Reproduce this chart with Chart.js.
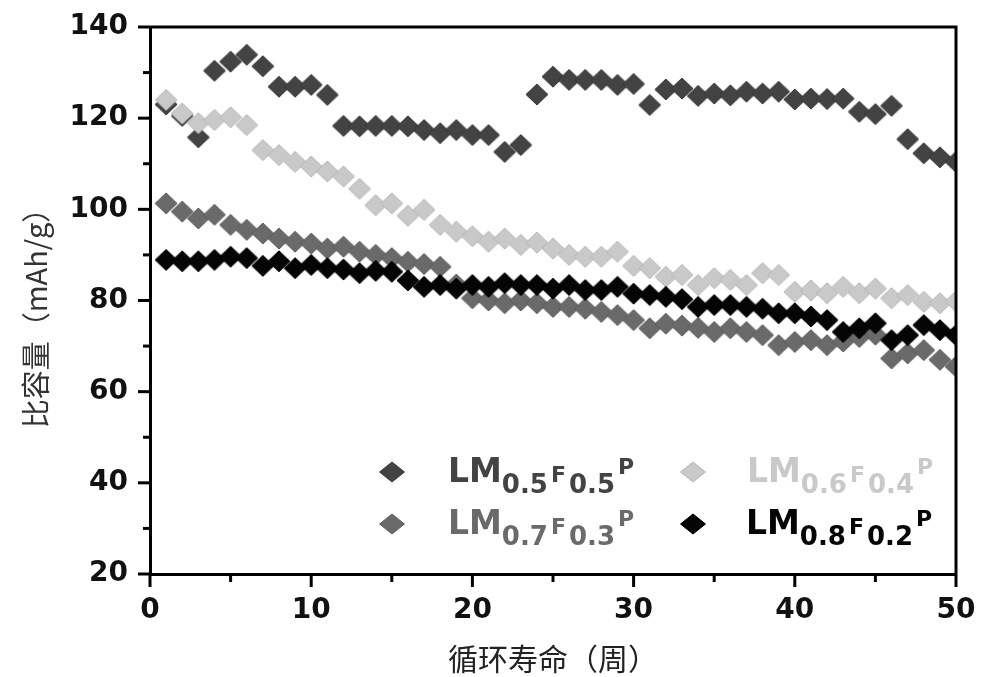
<!DOCTYPE html>
<html>
<head>
<meta charset="utf-8">
<script src="https://cdn.jsdelivr.net/npm/chart.js@4.4.1/dist/chart.umd.min.js"></script>
<style>
  html, body { margin: 0; padding: 0; background: #ffffff; }
  #wrap { width: 981px; height: 677px; position: relative; }
</style>
</head>
<body>
<div id="wrap"><canvas id="c" width="981" height="677"></canvas></div>
<script>
// ---- data ----
const cycles = [1,2,3,4,5,6,7,8,9,10,11,12,13,14,15,16,17,18,19,20,21,22,23,24,25,26,27,28,29,30,31,32,33,34,35,36,37,38,39,40,41,42,43,44,45,46,47,48,49,50];

const lm05 = [123,120.5,115.8,130.4,132.4,133.9,131.4,126.9,126.9,127.3,125.1,118.3,118.2,118.3,118.3,118.2,117.4,116.7,117.4,116.3,116.3,112.6,114.1,125.2,129.1,128.4,128.4,128.4,127.3,127.5,122.9,126.3,126.5,124.9,125.4,125.0,125.8,125.4,125.8,124.1,124.3,124.2,124.3,121.4,120.9,122.7,115.4,112.3,111.4,110.4];

const lm06 = [124,121,118.9,119.6,120.2,118.5,113,111.9,110.4,109.4,108.3,107.2,104.5,100.9,101.3,98.6,99.9,96.6,95.1,94.1,92.9,93.6,92.2,92.7,91.4,90.0,89.6,89.6,90.7,87.6,87.1,85.2,85.6,83.4,84.9,84.5,83.4,86.0,85.6,81.9,82.2,81.6,83.0,81.6,82.6,80.5,81.2,79.7,79.4,79.8];

const lm07 = [101.3,99.5,98.0,98.8,96.6,95.5,94.7,93.6,92.9,92.5,91.4,91.8,90.7,90.0,89.3,88.5,88.0,87.4,83.5,80.5,80.0,79.4,80.0,79.4,78.6,78.6,78.2,77.5,76.8,75.7,73.9,74.9,74.5,74.0,73.1,73.9,73.1,72.4,70.2,70.9,71.3,70.2,71.0,72.0,72.5,67.3,68.4,69.1,67.0,65.5];

const lm08 = [88.9,88.6,88.6,88.9,89.6,89.3,87.6,88.6,87.1,87.8,87.1,86.8,86.0,86.5,86.3,84.4,83.0,83.4,82.6,83.4,83.0,83.8,83.4,83.4,82.6,83.4,82.3,82.3,83.0,81.5,81.2,80.8,80.3,78.6,79.0,79.0,78.6,78.2,77.2,77.2,76.5,75.7,73.1,73.9,75.0,71.3,72.4,74.6,73.5,72.4];

const yTicks = [20,40,60,80,100,120,140];
const xTicks = [0,10,20,30,40,50];
const yMinor = [30,50,70,90,110,130];
const xMinor = [5,15,25,35,45];

// legend label parts: [main, sub, main2, sub2, tail]
const legendParts = [
  ['LM','0.5','F','0.5','P'],
  ['LM','0.6','F','0.4','P'],
  ['LM','0.7','F','0.3','P'],
  ['LM','0.8','F','0.2','P']
];

// ---- styling ----
const colors = ['#434343', '#c9c9c9', '#6a6a6a', '#050505'];
const edges  = ['#383838', '#b4b4b4', '#5c5c5c', '#000000'];

function makeDiamond(fill, stroke, w, h) {
  const c = document.createElement('canvas');
  c.width = w + 2; c.height = h + 2;
  const g = c.getContext('2d');
  g.beginPath();
  g.moveTo((w + 2) / 2, 1);
  g.lineTo(w + 1, (h + 2) / 2);
  g.lineTo((w + 2) / 2, h + 1);
  g.lineTo(1, (h + 2) / 2);
  g.closePath();
  g.fillStyle = fill; g.fill();
  g.strokeStyle = stroke; g.lineWidth = 1; g.stroke();
  return c;
}

const markers = colors.map((c, i) => makeDiamond(c, edges[i], 22, 21));

function pts(arr) { return arr.map((v, i) => ({ x: cycles[i], y: v })); }

const seriesList = [lm05, lm06, lm07, lm08];
const names = ['LM0.5F0.5P','LM0.6F0.4P','LM0.7F0.3P','LM0.8F0.2P'];

const datasets = seriesList.map((s, i) => ({
  label: names[i],
  data: pts(s),
  pointStyle: markers[i],
  pointRadius: 10,
  backgroundColor: colors[i],
  borderColor: colors[i],
  showLine: false,
  order: 4 - i
}));

const framePlugin = {
  id: 'frame',
  afterDraw(chart) {
    const ctx = chart.ctx;
    const a = chart.chartArea;
    const xs = chart.scales.x, ys = chart.scales.y;
    ctx.save();
    ctx.strokeStyle = '#000';
    ctx.lineCap = 'butt';
    ctx.lineWidth = 3;
    ctx.beginPath();
    ctx.moveTo(a.left, a.top); ctx.lineTo(a.right, a.top); ctx.lineTo(a.right, a.bottom);
    ctx.stroke();
    yTicks.forEach(v => {
      const y = ys.getPixelForValue(v);
      ctx.beginPath(); ctx.moveTo(a.left - 12, y); ctx.lineTo(a.left, y); ctx.stroke();
    });
    yMinor.forEach(v => {
      const y = ys.getPixelForValue(v);
      ctx.beginPath(); ctx.moveTo(a.left - 7, y); ctx.lineTo(a.left, y); ctx.stroke();
    });
    xTicks.forEach(v => {
      const x = xs.getPixelForValue(v);
      ctx.beginPath(); ctx.moveTo(x, a.bottom); ctx.lineTo(x, a.bottom + 13); ctx.stroke();
    });
    xMinor.forEach(v => {
      const x = xs.getPixelForValue(v);
      ctx.beginPath(); ctx.moveTo(x, a.bottom); ctx.lineTo(x, a.bottom + 8); ctx.stroke();
    });
    ctx.restore();
  }
};

// legend positions (layout)
const legendSlots = [
  { dx: 392, dy: 472, tx: 448, base: 481.5 },
  { dx: 693, dy: 472, tx: 747, base: 481.5 },
  { dx: 392, dy: 524, tx: 448, base: 533.5 },
  { dx: 693, dy: 524, tx: 746, base: 533.5 }
];

const legendPlugin = {
  id: 'subLegend',
  afterDraw(chart) {
    const ctx = chart.ctx;
    ctx.save();
    legendParts.forEach((parts, i) => {
      const s = legendSlots[i];
      ctx.beginPath();
      ctx.moveTo(s.dx, s.dy - 10);
      ctx.lineTo(s.dx + 12.5, s.dy);
      ctx.lineTo(s.dx, s.dy + 10);
      ctx.lineTo(s.dx - 12.5, s.dy);
      ctx.closePath();
      ctx.fillStyle = colors[i]; ctx.fill();
      ctx.strokeStyle = edges[i]; ctx.lineWidth = 1; ctx.stroke();
      ctx.fillStyle = colors[i];
      ctx.textBaseline = 'alphabetic';
      ctx.textAlign = 'left';
      let x = s.tx;
      const segs = [
        { t: parts[0], f: 'bold 33px "DejaVu Sans"', dy: 0, gap: 0 },
        { t: parts[1], f: 'bold 26px "DejaVu Sans"', dy: 11.5, gap: 3 },
        { t: parts[2], f: 'bold 22px "DejaVu Sans"', dy: 0, gap: 3 },
        { t: parts[3], f: 'bold 26px "DejaVu Sans"', dy: 11.5, gap: 3 },
        { t: parts[4], f: 'bold 22px "DejaVu Sans"', dy: -7.5, gap: 0 }
      ];
      segs.forEach(g => {
        ctx.font = g.f;
        ctx.fillText(g.t, x, s.base + g.dy);
        x += ctx.measureText(g.t).width + g.gap;
      });
    });
    ctx.restore();
  }
};

new Chart(document.getElementById('c'), {
  type: 'scatter',
  data: { datasets },
  options: {
    responsive: false,
    animation: false,
    events: [],
    layout: { padding: { left: 0, right: 25, top: 27, bottom: 0 } },
    plugins: {
      legend: { display: false },
      tooltip: { enabled: false },
      title: { display: false }
    },
    scales: {
      x: {
        type: 'linear',
        min: 0, max: 50,
        afterFit(scale) { scale.height = 103; scale.paddingLeft = 0; scale.paddingRight = 0; },
        afterBuildTicks(scale) { scale.ticks = xTicks.map(v => ({ value: v })); },
        grid: { display: false, drawTicks: false, drawOnChartArea: false },
        border: { display: true, color: '#000', width: 3 },
        ticks: {
          color: '#111',
          font: { family: 'DejaVu Sans', size: 28, weight: 'bold', lineHeight: 1.2 },
          padding: 20,
          maxRotation: 0,
          autoSkip: false
        },
        title: {
          display: true,
          text: '循环寿命（周）',
          color: '#222',
          font: { family: 'Noto Sans CJK SC', size: 30, weight: 'normal', lineHeight: 1.2 },
          padding: { top: 0, bottom: 0 }
        }
      },
      y: {
        type: 'linear',
        min: 20, max: 140,
        afterFit(scale) { scale.width = 150; scale.paddingTop = 0; scale.paddingBottom = 0; },
        afterBuildTicks(scale) { scale.ticks = yTicks.map(v => ({ value: v })); },
        grid: { display: false, drawTicks: false, drawOnChartArea: false },
        border: { display: true, color: '#000', width: 3 },
        ticks: {
          color: '#111',
          font: { family: 'DejaVu Sans', size: 28, weight: 'bold', lineHeight: 1.2 },
          padding: 22,
          autoSkip: false
        },
        title: {
          display: true,
          text: '比容量（mAh/g）　 ',
          color: '#333',
          font: { family: 'Noto Sans CJK SC', size: 29, weight: 'normal', lineHeight: 1.2 },
          padding: { top: 19, bottom: 0 }
        }
      }
    }
  },
  plugins: [framePlugin, legendPlugin]
});
</script>
</body>
</html>
